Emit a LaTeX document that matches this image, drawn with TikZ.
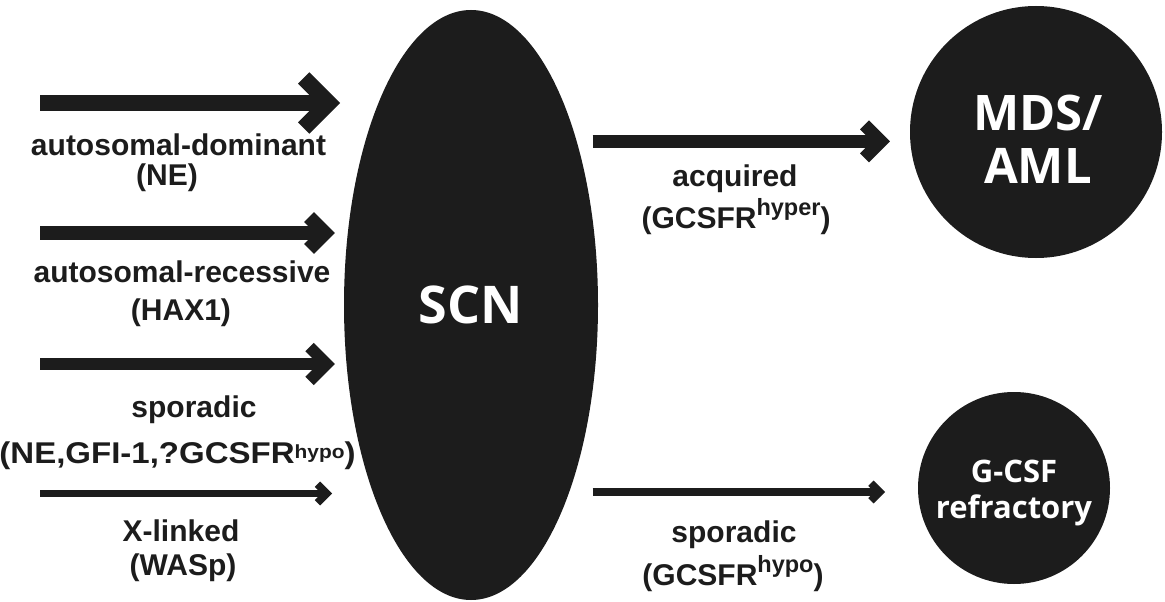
\documentclass[tikz,border=0pt]{standalone}
\usepackage{fontspec}
\setmainfont{Liberation Sans}
\newfontfamily\widefont{Liberation Sans}[FakeStretch=1.1]
\newfontfamily\circfont{Open Sans}
\usetikzlibrary{shapes.geometric,calc}
\definecolor{dk}{RGB}{28,28,28}
\newcommand{\supx}[3]{\raisebox{#2pt}{\fontsize{#1}{#1}\selectfont #3}}
\begin{document}
\begin{tikzpicture}[x=1pt,y=-1pt,
  lab/.style={text=dk, font=\bfseries\fontsize{30}{30}\selectfont, inner sep=0pt, anchor=base},
  blob/.style={fill=dk, draw=none, inner sep=0pt},
  ctext/.style={text=white, inner sep=0pt, align=center},
  shaft/.style={draw=dk, line cap=butt},
  chev/.style={draw=dk, line cap=butt, line join=miter}]
\useasboundingbox (0,0) rectangle (1165,602);
\fill[white] (0,0) rectangle (1165,602);

% central ellipse
\node[blob, ellipse, minimum width=254pt, minimum height=590pt, text=white,
      font=\circfont\bfseries\fontsize{52}{52}\selectfont] (scn) at (471,305) {SCN};

% right circles
\node[blob, circle, minimum size=252pt] (mds) at (1036,132) {};
\node[ctext, font=\circfont\bfseries\fontsize{49}{53}\selectfont] (mdstext) at (1038,139) {MDS/\\AML};
\node[blob, circle, minimum size=192pt] (gcsf) at (1014,488) {};
\node[ctext, font=\circfont\bfseries\fontsize{31}{36}\selectfont] (gcsftext) at (1014,492.5) {G-CSF\\refractory};

% arrow end points
\coordinate (a1s) at (40,103);    \coordinate (a1t) at (328.7,103);
\coordinate (a2s) at (40,233);    \coordinate (a2t) at (325,233);
\coordinate (a3s) at (40,364);    \coordinate (a3t) at (326.5,364);
\coordinate (a4s) at (40,493.5);  \coordinate (a4t) at (326.7,493.5);
\coordinate (r1s) at (592.7,141.3); \coordinate (r1t) at (881,141.3);
\coordinate (r2s) at (592.7,492);   \coordinate (r2t) at (879.7,492);

% arrows
\draw[shaft, line width=16pt] (a1s) -- (a1t);
\draw[chev, line width=16pt] ($(a1t)+(-25,-25)$) -- (a1t) -- ($(a1t)+(-25,25)$);
\draw[shaft, line width=14pt] (a2s) -- (a2t);
\draw[chev, line width=14pt] ($(a2t)+(-16,-16)$) -- (a2t) -- ($(a2t)+(-16,16)$);
\draw[shaft, line width=12pt] (a3s) -- (a3t);
\draw[chev, line width=12pt] ($(a3t)+(-17,-17)$) -- (a3t) -- ($(a3t)+(-17,17)$);
\draw[shaft, line width=7.5pt] (a4s) -- (a4t);
\draw[chev, line width=7.5pt] ($(a4t)+(-9.3,-9.3)$) -- (a4t) -- ($(a4t)+(-9.3,9.3)$);
\draw[shaft, line width=12.7pt] (r1s) -- (r1t);
\draw[chev, line width=12.7pt] ($(r1t)+(-16.5,-16.5)$) -- (r1t) -- ($(r1t)+(-16.5,16.5)$);
\draw[shaft, line width=7.5pt] (r2s) -- (r2t);
\draw[chev, line width=7.5pt] ($(r2t)+(-8.8,-8.8)$) -- (r2t) -- ($(r2t)+(-8.8,8.8)$);

% left labels
\node[lab] (l1a) at (178.5,155) {autosomal-dominant};
\node[lab] (l1b) at (167,185) {(NE)};
\node[lab] (l2a) at (182,282) {autosomal-recessive};
\node[lab] (l2b) at (181,320) {(HAX1)};
\node[lab] (l3a) at (194,417) {sporadic};
\node[lab, font=\widefont\bfseries\fontsize{30}{30}\selectfont] (l3b) at (177.5,463) {(NE,GFI-1,?GCSFR\supx{19}{5}{hypo})};
\node[lab] (l4a) at (181,541) {X-linked};
\node[lab] (l4b) at (183,575) {(WASp)};

% right labels
\node[lab] (r1a) at (735,186) {acquired};
\node[lab] (r1b) at (736,228) {(GCSFR\supx{23.5}{13}{hyper})};
\node[lab] (r2a) at (734,542) {sporadic};
\node[lab] (r2b) at (733,585) {(GCSFR\supx{23.5}{13}{hypo})};
\end{tikzpicture}
\end{document}
